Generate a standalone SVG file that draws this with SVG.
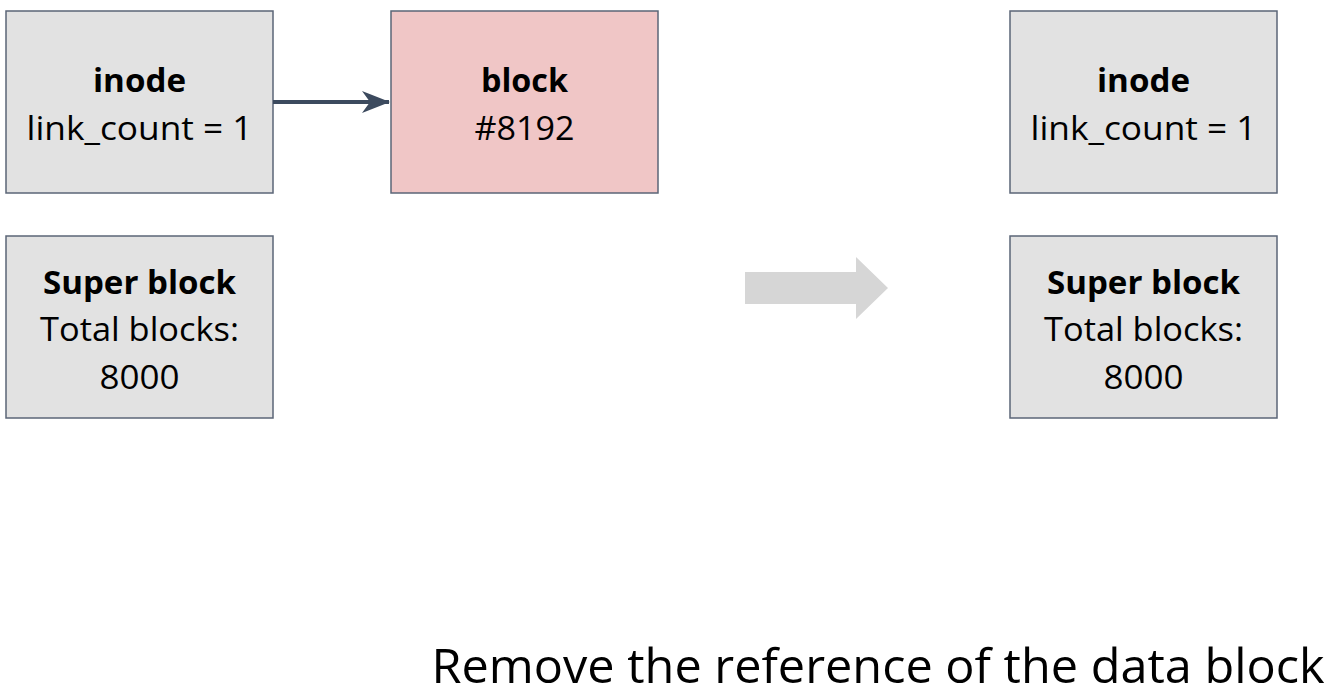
<svg xmlns="http://www.w3.org/2000/svg" width="1340" height="698" viewBox="0 0 1340 698">
<style>
.box{fill:#e2e2e2;stroke:#5b6577;stroke-width:1.5}
.pink{fill:#f0c6c6;stroke:#5b6577;stroke-width:1.5}
text{font-family:"Open Sans","Liberation Sans",sans-serif;font-size:32px;fill:#000;text-anchor:middle}
.b{font-weight:bold}
</style>
<defs>
<marker id="ah" markerWidth="28" markerHeight="24" refX="27" refY="12" orient="auto" markerUnits="userSpaceOnUse" viewBox="0 0 28 24">
<path d="M0,1 L28,12 L0,23 L8,12 Z" fill="#3c4a5e"/>
</marker>
</defs>
<rect width="1340" height="698" fill="#fff"/>
<g id="inode-left">
<rect class="box" x="6" y="11" width="267" height="182"/>
<text class="b" x="139.5" y="92" textLength="93" lengthAdjust="spacingAndGlyphs">inode</text>
<text x="139.5" y="140" textLength="226" lengthAdjust="spacingAndGlyphs">link_count = 1</text>
</g>
<g id="block">
<rect class="pink" x="391" y="11" width="267" height="182"/>
<text class="b" x="524.5" y="92" textLength="87" lengthAdjust="spacingAndGlyphs">block</text>
<text x="524.5" y="140" textLength="100" lengthAdjust="spacingAndGlyphs">#8192</text>
</g>
<g id="super-left">
<rect class="box" x="6" y="236" width="267" height="182"/>
<text class="b" x="139.5" y="294" textLength="193" lengthAdjust="spacingAndGlyphs">Super block</text>
<text x="139.5" y="341" textLength="199" lengthAdjust="spacingAndGlyphs">Total blocks:</text>
<text x="139.5" y="389" textLength="80" lengthAdjust="spacingAndGlyphs">8000</text>
</g>
<g id="inode-right">
<rect class="box" x="1010" y="11" width="267" height="182"/>
<text class="b" x="1143.5" y="92" textLength="93" lengthAdjust="spacingAndGlyphs">inode</text>
<text x="1143.5" y="140" textLength="226" lengthAdjust="spacingAndGlyphs">link_count = 1</text>
</g>
<g id="super-right">
<rect class="box" x="1010" y="236" width="267" height="182"/>
<text class="b" x="1143.5" y="294" textLength="193" lengthAdjust="spacingAndGlyphs">Super block</text>
<text x="1143.5" y="341" textLength="199" lengthAdjust="spacingAndGlyphs">Total blocks:</text>
<text x="1143.5" y="389" textLength="80" lengthAdjust="spacingAndGlyphs">8000</text>
</g>
<g id="connectors">
<line x1="273" y1="102" x2="389" y2="102" stroke="#3c4a5e" stroke-width="4" marker-end="url(#ah)"/>
</g>
<g id="transition-arrow">
<polygon points="745,272 856,272 856,257 888,288 856,319 856,304 745,304" fill="#d6d6d6"/>
</g>
<text x="878" y="683" style="font-size:48px" textLength="893" lengthAdjust="spacingAndGlyphs">Remove the reference of the data block</text>
</svg>
